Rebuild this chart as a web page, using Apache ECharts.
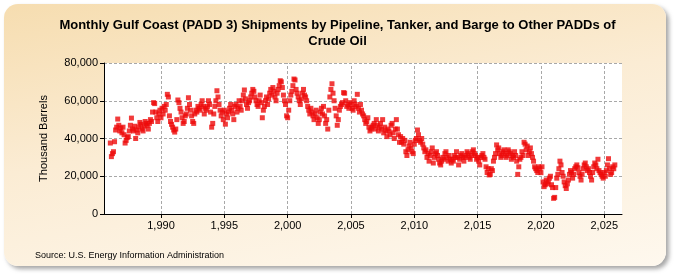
<!DOCTYPE html>
<html>
<head>
<meta charset="utf-8">
<script src="https://cdn.jsdelivr.net/npm/echarts@6/dist/echarts.min.js"></script>
<style>
  html, body { margin: 0; padding: 0; background: #ffffff; }
  #frame {
    position: absolute; left: 4px; top: 4px; width: 662px; height: 262px;
    border-radius: 14px;
    background: linear-gradient(170deg, #f6ddb0 0%, #fbecd4 45%, #fef8ee 100%);
    box-shadow: 3px 3px 4px rgba(120,120,120,0.65);
  }
  #chart { position: absolute; left: 0; top: 0; width: 675px; height: 275px; }
</style>
</head>
<body>
<div id="frame"></div>
<div id="chart"></div>
<script>
var startYear = 1986;
var xTicks = [1990, 1995, 2000, 2005, 2010, 2015, 2020, 2025];
var yTicks = [0, 20000, 40000, 60000, 80000];
// monthly shipments, thousand barrels, one row per year (Jan..Dec)
var shipments = [
  [37600, 30400, 32000, 33000, 38300, 44500, 46000, 50300, 47000, 44000, 45500, 43000],
  [46000, 42000, 37600, 39000, 40500, 41000, 44000, 47000, 50800, 45000, 44000, 46500],
  [40000, 44500, 43000, 46000, 48500, 47500, 45000, 44000, 46500, 49000, 48000, 47000],
  [45000, 48000, 50000, 49000, 54000, 59000, 58500, 54000, 51000, 49000, 53000, 55000],
  [51000, 56000, 53000, 57000, 55000, 58000, 63400, 62000, 52000, 49000, 47500, 46000],
  [44500, 43400, 45000, 50000, 60400, 59000, 56000, 54000, 51000, 48000, 49000, 52000],
  [53000, 56000, 61600, 58000, 55000, 52000, 49000, 48000, 53000, 55000, 54000, 57000],
  [56000, 55000, 58000, 60000, 57000, 53000, 56000, 55000, 57000, 60000, 58000, 54000],
  [46000, 48000, 53000, 57000, 60000, 65300, 62000, 58000, 55000, 52000, 54000, 50000],
  [55000, 47600, 53000, 51000, 54000, 56000, 58000, 55000, 53000, 50000, 57000, 58000],
  [54000, 56000, 60000, 57000, 55000, 60000, 63000, 65700, 61000, 58000, 56000, 59000],
  [60000, 62000, 64000, 66000, 65000, 62000, 60000, 58000, 57000, 60000, 63000, 59000],
  [51000, 55000, 57000, 60000, 62000, 58000, 61000, 64000, 66000, 63000, 67000, 65000],
  [62000, 60000, 64000, 66000, 68000, 70600, 70000, 67000, 63000, 60000, 58000, 52000],
  [51000, 55000, 60000, 63000, 65000, 68000, 71500, 71000, 66000, 64000, 62000, 60000],
  [58000, 61000, 64000, 66000, 63000, 62000, 60000, 57000, 55000, 53000, 56000, 54000],
  [52000, 50000, 53000, 55000, 51000, 48000, 50000, 54000, 56000, 53000, 57000, 52000],
  [48000, 50000, 45000, 55000, 62000, 66000, 69000, 64000, 60000, 56000, 52000, 47000],
  [50000, 55000, 57000, 58000, 59000, 64300, 64000, 60000, 57000, 58000, 56000, 59000],
  [58000, 56000, 55000, 60000, 58000, 57000, 63400, 56000, 54000, 58000, 55000, 53000],
  [52000, 50000, 48000, 49000, 51000, 46000, 44000, 45000, 46000, 47000, 48000, 45000],
  [50000, 47000, 44000, 46000, 48000, 45000, 50000, 43000, 46000, 44000, 41000, 45000],
  [44000, 42000, 47000, 48000, 43000, 40000, 45000, 50000, 45000, 42000, 38000, 41000],
  [38000, 40000, 37000, 39000, 33000, 31000, 34000, 36000, 38000, 35000, 33000, 32000],
  [37000, 39000, 40000, 44500, 42000, 39000, 38000, 40000, 37000, 35000, 33000, 34000],
  [30000, 32000, 28000, 31000, 33000, 35000, 27000, 30000, 32000, 33000, 31000, 29000],
  [27000, 26000, 28000, 30000, 29000, 32000, 33000, 30000, 28000, 31000, 29000, 27000],
  [29000, 28000, 31000, 30000, 33000, 30000, 26000, 29000, 31000, 32000, 30000, 28000],
  [30000, 31000, 33000, 32000, 30000, 29000, 31000, 33000, 34000, 32000, 31000, 29000],
  [30000, 28000, 26000, 30000, 31000, 32000, 30000, 29000, 25000, 22000, 24000, 20700],
  [21000, 24000, 23000, 28000, 30000, 32000, 36600, 34000, 35000, 32000, 30000, 31000],
  [33000, 34000, 32000, 30000, 31000, 34000, 33000, 32000, 29000, 31000, 30000, 33000],
  [31000, 28000, 21000, 25000, 29000, 30000, 33000, 31000, 38000, 37000, 34000, 36000],
  [31000, 33000, 35000, 32000, 30000, 28000, 25000, 24000, 23000, 22000, 25000, 24000],
  [21900, 25000, 17000, 14500, 15500, 18000, 16000, 17000, 19000, 20000, 15500, 14000],
  [8300, 8800, 14000, 19000, 21000, 24000, 28000, 26000, 22000, 20000, 17000, 15000],
  [13500, 16000, 18000, 21000, 23000, 22000, 19000, 21000, 24000, 25000, 26000, 24500],
  [22000, 20000, 18000, 21000, 24000, 26000, 27000, 25000, 23000, 24000, 22000, 20000],
  [18000, 22000, 25000, 27000, 26000, 24000, 29000, 23000, 22000, 21000, 20000, 19000],
  [22000, 20000, 23000, 26000, 29300, 24000, 21000, 22000, 25000, 24000, 26000]
];

var points = [];
shipments.forEach(function (row, i) {
  row.forEach(function (v, m) {
    points.push([startYear + i + m / 12, v]);
  });
});

var chart = echarts.init(document.getElementById('chart'), null, { renderer: 'canvas' });
var font = '"Liberation Sans", Arial, sans-serif';
var gridLine = { color: '#a8a8a8', type: [3, 2], width: 1 };

chart.setOption({
  backgroundColor: 'transparent',
  animation: false,
  title: [{
    text: 'Monthly Gulf Coast (PADD 3) Shipments by Pipeline, Tanker, and Barge to Other PADDs of\nCrude Oil',
    left: 'center',
    top: 12,
    textStyle: { fontFamily: font, fontSize: 13, fontWeight: 'bold', color: '#000', lineHeight: 16 }
  }, {
    text: 'Source: U.S. Energy Information Administration',
    left: 30,
    top: 246,
    textStyle: { fontFamily: font, fontSize: 9, fontWeight: 'normal', color: '#000' }
  }],
  grid: { left: 104, top: 63, right: 53, bottom: 61, show: true, backgroundColor: '#fff', borderWidth: 0 },
  xAxis: {
    type: 'value',
    min: 1985.5,
    max: 2026.4,
    axisLine: { lineStyle: { color: '#000', width: 1 } },
    axisTick: { show: true, length: 4, lineStyle: { color: '#000' }, customValues: xTicks },
    axisLabel: { fontFamily: font, fontSize: 11, color: '#000', margin: 6, customValues: xTicks },
    splitLine: { show: false }
  },
  yAxis: {
    type: 'value',
    min: yTicks[0],
    max: yTicks[yTicks.length - 1],
    interval: 20000,
    name: 'Thousand Barrels',
    nameLocation: 'middle',
    nameGap: 55,
    nameTextStyle: { fontFamily: font, fontSize: 11, color: '#000' },
    axisLine: { show: true, lineStyle: { color: '#000', width: 1 } },
    axisTick: { show: true, length: 4, lineStyle: { color: '#000' } },
    axisLabel: {
      fontFamily: font, fontSize: 11, color: '#000', margin: 6,
      formatter: function (v) { return v.toLocaleString('en-US'); }
    },
    splitLine: { show: true, lineStyle: gridLine }
  },
  series: [{
    type: 'scatter',
    data: points,
    symbol: 'rect',
    symbolSize: 5,
    itemStyle: { color: '#ee0a0a' },
    markLine: {
      silent: true,
      z: 1,
      animation: false,
      symbol: ['none', 'none'],
      label: { show: false },
      lineStyle: gridLine,
      emphasis: { disabled: true },
      data: xTicks.map(function (t) { return { xAxis: t }; })
    }
  }]
});
</script>
</body>
</html>
